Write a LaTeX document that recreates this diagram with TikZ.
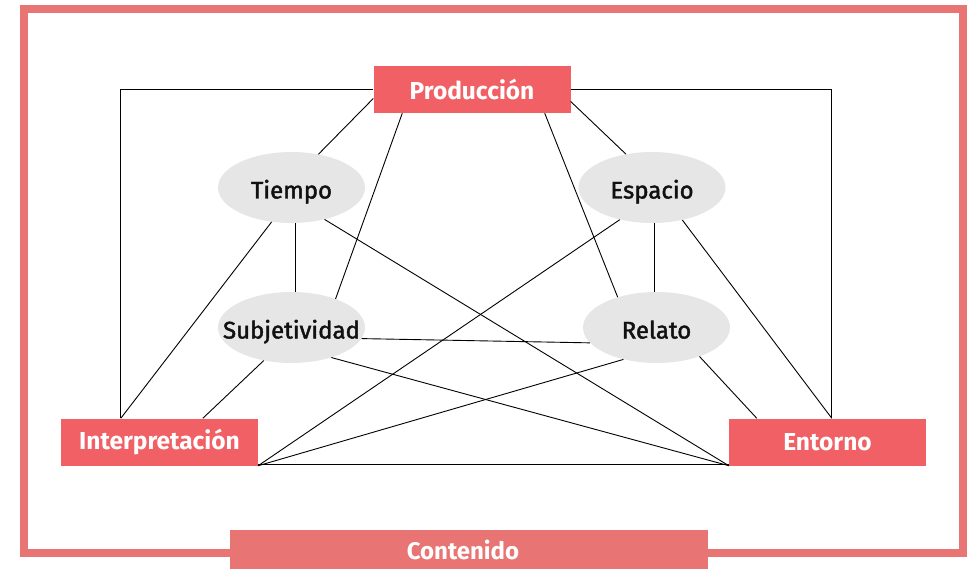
\documentclass[tikz,border=0pt]{standalone}
\usepackage{fontspec}
\setmainfont{Fira Sans}
\newfontfamily\ovalfont[FakeBold=1.8]{Fira Sans}
\usetikzlibrary{shapes.geometric,calc}
\definecolor{boxred}{HTML}{F06064}
\definecolor{framered}{HTML}{E87474}
\definecolor{ovalgray}{HTML}{E6E6E6}
\definecolor{ovaltext}{HTML}{111111}
\tikzset{
  redbox/.style={rectangle, fill=boxred, text=white, font=\bfseries\fontsize{24.5}{28}\selectfont,
    minimum width=197pt, minimum height=47pt, inner sep=0pt},
  contbox/.style={rectangle, fill=framered, text=white, font=\bfseries\fontsize{24}{27}\selectfont,
    minimum width=478pt, minimum height=39pt, inner sep=0pt},
  oval/.style={ellipse, fill=ovalgray, text=ovaltext, font=\ovalfont\fontsize{24}{28}\selectfont,
    minimum width=147pt, minimum height=71pt, inner sep=0pt},
  link/.style={draw=black, line width=0.9pt},
}
\newcommand{\ovaltxt}[1]{\smash{\raisebox{-11pt}{\makebox[0pt][c]{#1}}}}
\begin{document}
\begin{tikzpicture}[x=1pt,y=-1pt]
\useasboundingbox (0,0) rectangle (969,569);
% outer frame
\draw[framered, line width=8pt] (24,9) rectangle (962.5,552.5);

% ovals
\node[oval] (tiempo) at (291.5,187.5) {\ovaltxt{Tiempo}};
\node[oval] (subj) at (291.5,327.5) {\ovaltxt{Subjetividad}};
\node[oval] (espacio) at (652,187.5) {\ovaltxt{Espacio}};
\node[oval] (relato) at (656.5,327.5) {\ovaltxt{Relato}};

% boxes
\node[redbox] (prod) at (472,89.5) {Producción};
\node[redbox] (interp) at (159.5,442) {Interpretación};
\node[redbox] (ent) at (827.5,442) {Entorno};
\node[contbox] (cont) at (469,549.5) {\hspace*{-12pt}Contenido};

% connectors
\draw[link] (prod.west) -| ([xshift=60pt]interp.north west);
\draw[link] (prod.east) -| ([xshift=103pt]ent.north west);
\draw[link] ([yshift=-9pt]prod.west) -- (tiempo.51);
\draw[link] ([xshift=29pt]prod.south west) -- (subj.33);
\draw[link] ([xshift=-26pt]prod.south east) -- (relato.142);
\draw[link] ([yshift=-12pt]prod.east) -- (espacio.128);
\draw[link] ([xshift=3.5pt]tiempo.south) -- ([xshift=3.5pt]subj.north);
\draw[link] ([xshift=2pt]espacio.south) -- ([xshift=-2.5pt]relato.north);
\draw[link] (tiempo.-120) -- ([xshift=60pt]interp.north west);
\draw[link] (subj.-130) -- ([xshift=142pt]interp.north west);
\draw[link] (tiempo.-44) -- (ent.south west);
\draw[link] (subj.-9) -- (relato.193);
\draw[link] (subj.-37) -- (ent.south west);
\draw[link] (espacio.-135) -- (interp.south east);
\draw[link] (relato.-136) -- (interp.south east);
\draw[link] ([yshift=1pt]interp.south east) -- ([yshift=1pt]ent.south west);
\draw[link] (relato.-34) -- ([xshift=28pt]ent.north west);
\draw[link] (espacio.-47) -- ([xshift=103pt]ent.north west);
\end{tikzpicture}
\end{document}
